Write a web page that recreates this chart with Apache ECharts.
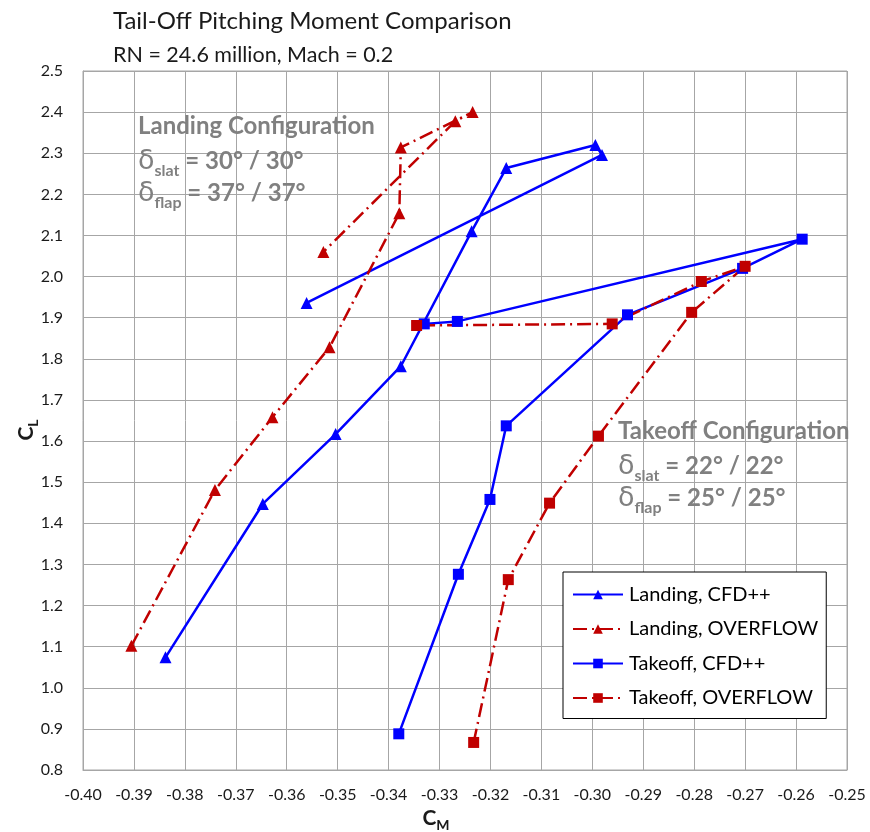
<!DOCTYPE html>
<html>
<head>
<meta charset="utf-8">
<script src="https://cdn.jsdelivr.net/npm/echarts@6/dist/echarts.min.js"></script>
<style>html,body{margin:0;padding:0;background:#fff}#c{width:870px;height:832px}</style>
</head>
<body>
<div id="c"></div>
<script>
// ---- data ----
const seriesNames = ['Landing, CFD++', 'Landing, OVERFLOW', 'Takeoff, CFD++', 'Takeoff, OVERFLOW'];

const landingCfdCM = [-0.3838, -0.3647, -0.3504, -0.3376, -0.3237, -0.3169, -0.2994, -0.2981, -0.3561];
const landingCfdCL = [1.074, 1.447, 1.617, 1.782, 2.110, 2.264, 2.320, 2.296, 1.936];

const landingOvfCM = [-0.3905, -0.3741, -0.3628, -0.3516, -0.3379, -0.3376, -0.3235, -0.3269, -0.3528];
const landingOvfCL = [1.102, 1.481, 1.658, 1.828, 2.154, 2.314, 2.400, 2.378, 2.060];

const takeoffCfdCM = [-0.3380, -0.3263, -0.3201, -0.3169, -0.2931, -0.2705, -0.2588, -0.3265, -0.3330];
const takeoffCfdCL = [0.888, 1.276, 1.458, 1.637, 1.907, 2.020, 2.091, 1.891, 1.885];

const takeoffOvfCM = [-0.3233, -0.3165, -0.3084, -0.2988, -0.2805, -0.2700, -0.2786, -0.2961, -0.3345];
const takeoffOvfCL = [0.867, 1.263, 1.449, 1.612, 1.913, 2.025, 1.988, 1.885, 1.881];

const xTicks = { min: -0.40, max: -0.25, step: 0.01 };
const yTicks = { min: 0.8, max: 2.5, step: 0.1 };

// ---- chart ----
const zip = (a, b) => a.map((v, i) => [v, b[i]]);
const BLUE = '#0000FF', RED = '#C00000';
const FONT = 'Lato, "Open Sans", sans-serif';
const TXT = '#1a1a1a';
const gray = '#808080';
const dashDot = [14, 5, 2, 5];

function mk(name, cm, cl, color, symbol, dashed) {
  return {
    name, type: 'line', data: zip(cm, cl),
    symbol, symbolSize: symbol === 'triangle' ? 12 : 11,
    showSymbol: true,
    lineStyle: { color, width: 2.5, type: dashed ? dashDot : 'solid' },
    itemStyle: { color },
    emphasis: { disabled: true },
    animation: false, z: 3
  };
}

function annot(x, y, head, slat, flap) {
  const rich = {
    h: { fontSize: 24, fontWeight: 'bold', fill: gray, fontFamily: FONT, lineHeight: 34 },
    d: { fontSize: 27, fill: gray, fontFamily: '"DejaVu Sans", sans-serif', lineHeight: 32, verticalAlign: 'bottom' },
    s: { fontSize: 16, fontWeight: 'bold', fill: gray, fontFamily: FONT, lineHeight: 32, verticalAlign: 'bottom', padding: [0, 0, -4, 0] },
    t: { fontSize: 24, fontWeight: 'bold', fill: gray, fontFamily: FONT, lineHeight: 32, verticalAlign: 'bottom', padding: [0, 0, 2, 0] }
  };
  return {
    type: 'text', left: x, top: y, z: 10,
    style: {
      text: '{h|' + head + '}\n{d|δ}{s|slat}{t| = ' + slat + '}\n{d|δ}{s|flap}{t| = ' + flap + '}',
      rich
    }
  };
}

function axisTitle(x, y, main, sub, rot) {
  return {
    type: 'text', x, y, rotation: rot, z: 10,
    style: {
      text: '{b|' + main + '}{s|' + sub + '}',
      align: 'center', verticalAlign: 'middle',
      rich: {
        b: { fontSize: 21, fontWeight: 'bold', fill: TXT, fontFamily: FONT, lineHeight: 26, verticalAlign: 'bottom' },
        s: { fontSize: 14, fontWeight: 'bold', fill: TXT, fontFamily: FONT, lineHeight: 26, verticalAlign: 'bottom', padding: [0, 0, -3, 0] }
      }
    }
  };
}

const chart = echarts.init(document.getElementById('c'), null, { renderer: 'canvas' });
chart.setOption({
  animation: false,
  textStyle: { fontFamily: FONT },
  title: {
    text: 'Tail-Off Pitching Moment Comparison',
    subtext: 'RN = 24.6 million, Mach = 0.2',
    left: 108, top: 4, itemGap: 11,
    textStyle: { fontFamily: FONT, fontSize: 24, fontWeight: 'normal', color: TXT },
    subtextStyle: { fontFamily: FONT, fontSize: 21.5, color: TXT }
  },
  grid: { left: 83, right: 23, top: 71, bottom: 62, show: true, borderColor: '#a6a6a6', borderWidth: 1, outerBoundsMode: 'none', containLabel: false },
  xAxis: {
    type: 'value', min: xTicks.min, max: xTicks.max, interval: xTicks.step,
    axisLine: { show: true, lineStyle: { color: '#a6a6a6' } },
    axisTick: { show: false },
    splitLine: { show: true, lineStyle: { color: '#a6a6a6', width: 1 } },
    axisLabel: { margin: 17, fontSize: 16, color: TXT, fontFamily: FONT,
      formatter: v => v.toFixed(2) }
  },
  yAxis: {
    type: 'value', min: yTicks.min, max: yTicks.max, interval: yTicks.step,
    axisLine: { show: true, lineStyle: { color: '#a6a6a6' } },
    axisTick: { show: false },
    splitLine: { show: true, lineStyle: { color: '#a6a6a6', width: 1 } },
    axisLabel: { margin: 20, fontSize: 16, color: TXT, fontFamily: FONT,
      formatter: v => v.toFixed(1) }
  },
  legend: {
    orient: 'vertical', left: 563, top: 572,
    data: seriesNames,
    backgroundColor: '#fff', borderColor: '#000', borderWidth: 1,
    padding: [12, 8, 10, 9], itemGap: 13.5, itemWidth: 50, itemHeight: 12,
    textStyle: { fontSize: 20, lineHeight: 21, color: '#000', fontFamily: FONT, padding: [0, 0, 0, 1] },
    selectedMode: false
  },
  series: [
    mk(seriesNames[0], landingCfdCM, landingCfdCL, BLUE, 'triangle', false),
    mk(seriesNames[1], landingOvfCM, landingOvfCL, RED, 'triangle', true),
    mk(seriesNames[2], takeoffCfdCM, takeoffCfdCL, BLUE, 'rect', false),
    mk(seriesNames[3], takeoffOvfCM, takeoffOvfCL, RED, 'rect', true)
  ],
  graphic: [
    annot(138, 114, 'Landing Configuration', '30° / 30°', '37° / 37°'),
    annot(618, 419, 'Takeoff Configuration', '22° / 22°', '25° / 25°'),
    axisTitle(436, 816, 'C', 'M', 0),
    axisTitle(24, 430, 'C', 'L', Math.PI / 2)
  ]
});
</script>
</body>
</html>
